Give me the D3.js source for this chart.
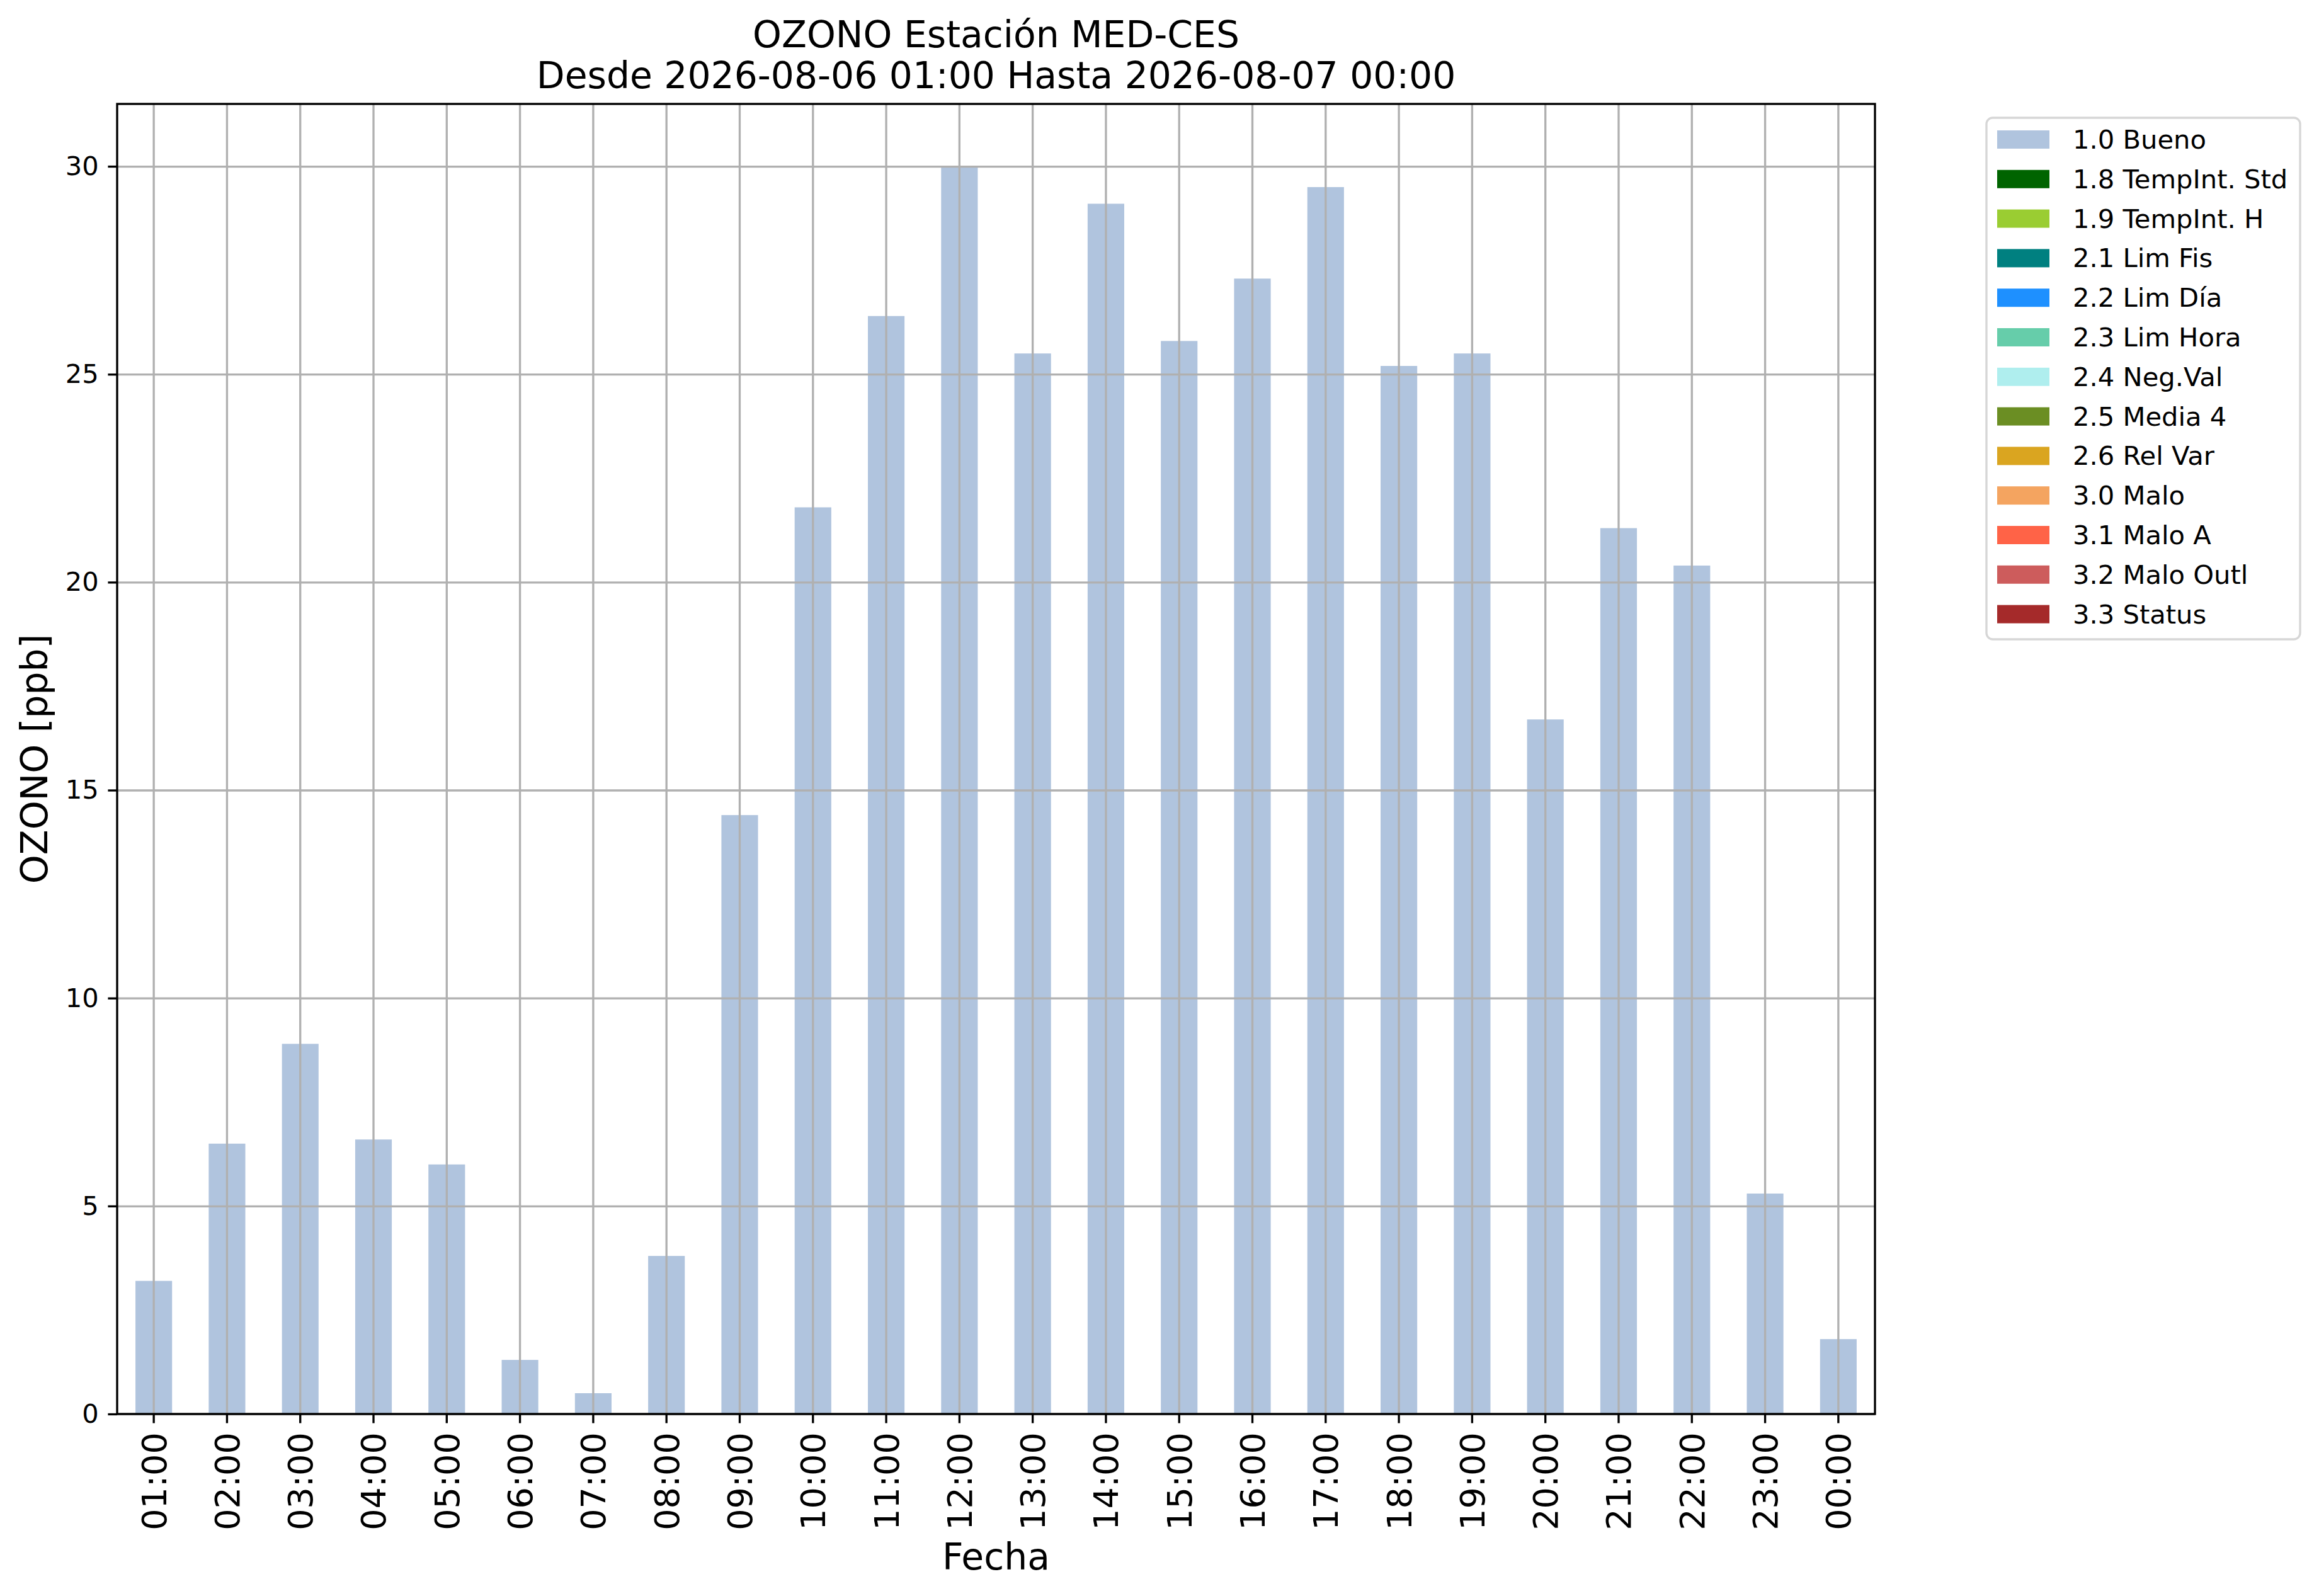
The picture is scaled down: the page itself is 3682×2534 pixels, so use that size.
<!DOCTYPE html>
<html>
<head>
<meta charset="utf-8">
<script src="https://cdn.jsdelivr.net/npm/d3@7"></script>
<style>
  body { margin: 0; background: #fff; }
  svg { display: block; font-family: "DejaVu Sans", sans-serif; }
</style>
</head>
<body>
<script>

// data
var hours = ["01:00","02:00","03:00","04:00","05:00","06:00","07:00","08:00",
             "09:00","10:00","11:00","12:00","13:00","14:00","15:00","16:00",
             "17:00","18:00","19:00","20:00","21:00","22:00","23:00","00:00"];

var ozone = [3.2, 6.5, 8.9, 6.6, 6.0, 1.3, 0.5, 3.8,
             14.4, 21.8, 26.4, 30.0, 25.5, 29.1, 25.8, 27.3,
             29.5, 25.2, 25.5, 16.7, 21.3, 20.4, 5.3, 1.8];

var yTicks = [0, 5, 10, 15, 20, 25, 30];

var flagLabels = ["1.0 Bueno", "1.8 TempInt. Std", "1.9 TempInt. H", "2.1 Lim Fis",
                  "2.2 Lim Día", "2.3 Lim Hora", "2.4 Neg.Val", "2.5 Media 4",
                  "2.6 Rel Var", "3.0 Malo", "3.1 Malo A", "3.2 Malo Outl", "3.3 Status"];

var flagColors = ["#b0c4de", "#006400", "#9acd32", "#008080",
                  "#1e90ff", "#66cdaa", "#afeeee", "#6b8e23",
                  "#daa520", "#f4a460", "#ff6347", "#cd5c5c", "#a52a2a"];

var titleLines = ["OZONO Estación MED-CES", "Desde 2026-08-06 01:00 Hasta 2026-08-07 00:00"];


var W = 3682, H = 2534,
    pt = 300 / 72,
    plot = {left: 186, right: 2977, top: 165, bottom: 2245},
    lw = 0.8 * pt,
    tickLen = 3.5 * pt;

var svg = d3.select("body").append("svg")
    .attr("width", W)
    .attr("height", H);

var x = d3.scaleBand()
    .domain(hours)
    .range([plot.left, plot.right])
    .paddingInner(0.5)
    .paddingOuter(0.25);

var y = d3.scaleLinear()
    .domain([0, 31.5])
    .range([plot.bottom, plot.top]);

// bars
svg.append("g")
    .selectAll("rect")
    .data(ozone)
    .enter().append("rect")
    .attr("x", function (d, i) { return x(hours[i]); })
    .attr("width", x.bandwidth())
    .attr("y", function (d) { return y(d); })
    .attr("height", function (d) { return y(0) - y(d); })
    .attr("fill", flagColors[0]);

// grid over the bars, like the original
var gridX = svg.append("g")
    .attr("transform", "translate(0," + plot.bottom + ")")
    .call(d3.axisBottom(x).tickSize(-(plot.bottom - plot.top)).tickFormat(""));
var gridY = svg.append("g")
    .attr("transform", "translate(" + plot.left + ",0)")
    .call(d3.axisLeft(y).tickValues(yTicks).tickSize(-(plot.right - plot.left)).tickFormat(""));
[gridX, gridY].forEach(function (g) {
    g.select(".domain").remove();
    g.selectAll("line").attr("stroke", "#b0b0b0").attr("stroke-width", lw);
});

// frame
svg.append("rect")
    .attr("x", plot.left)
    .attr("y", plot.top)
    .attr("width", plot.right - plot.left)
    .attr("height", plot.bottom - plot.top)
    .attr("fill", "none")
    .attr("stroke", "#000")
    .attr("stroke-width", lw);

// y axis
var yAxis = svg.append("g")
    .attr("transform", "translate(" + plot.left + ",0)")
    .call(d3.axisLeft(y).tickValues(yTicks).tickSize(tickLen).tickPadding(tickLen));
yAxis.select(".domain").remove();
yAxis.selectAll("line").attr("stroke", "#000").attr("stroke-width", lw);
yAxis.selectAll("text")
    .attr("font-family", "DejaVu Sans")
    .attr("font-size", 10 * pt)
    .attr("fill", "#000");

// x axis, labels turned upright
var xAxis = svg.append("g")
    .attr("transform", "translate(0," + plot.bottom + ")")
    .call(d3.axisBottom(x).tickSize(tickLen).tickPadding(0));
xAxis.select(".domain").remove();
xAxis.selectAll("line").attr("stroke", "#000").attr("stroke-width", lw);
xAxis.selectAll("text")
    .attr("font-family", "DejaVu Sans")
    .attr("font-size", 54)
    .attr("fill", "#000")
    .attr("text-anchor", "end")
    .attr("y", 0)
    .attr("dy", "0.36em")
    .attr("transform", "translate(0," + (2 * tickLen) + ") rotate(-90)");

// axis titles
svg.append("text")
    .attr("x", (plot.left + plot.right) / 2)
    .attr("y", 2492)
    .attr("text-anchor", "middle")
    .attr("font-size", 14 * pt)
    .text("Fecha");

svg.append("text")
    .attr("transform", "translate(75," + (plot.top + plot.bottom) / 2 + ") rotate(-90)")
    .attr("text-anchor", "middle")
    .attr("font-size", 14 * pt)
    .text("OZONO [ppb]");

// title
svg.append("g")
    .selectAll("text")
    .data(titleLines)
    .enter().append("text")
    .attr("x", (plot.left + plot.right) / 2)
    .attr("y", function (d, i) { return 75 + i * 65; })
    .attr("text-anchor", "middle")
    .attr("font-size", 14 * pt)
    .text(function (d) { return d; });

// legend outside the axes
var legend = svg.append("g");
legend.append("rect")
    .attr("x", 3154)
    .attr("y", 187)
    .attr("width", 3652 - 3154)
    .attr("height", 1015 - 187)
    .attr("rx", 10)
    .attr("fill", "#fff")
    .attr("stroke", "#d6d6d6")
    .attr("stroke-width", lw);

var rowH = 62.8;
var item = legend.selectAll(".item")
    .data(flagLabels)
    .enter().append("g")
    .attr("class", "item")
    .attr("transform", function (d, i) { return "translate(3171," + (207 + i * rowH) + ")"; });

item.append("rect")
    .attr("width", 83)
    .attr("height", 29)
    .attr("fill", function (d, i) { return flagColors[i]; });

item.append("text")
    .attr("x", 3291 - 3171)
    .attr("y", 29)
    .attr("font-size", 10 * pt)
    .text(function (d) { return d; });

</script>
</body>
</html>
